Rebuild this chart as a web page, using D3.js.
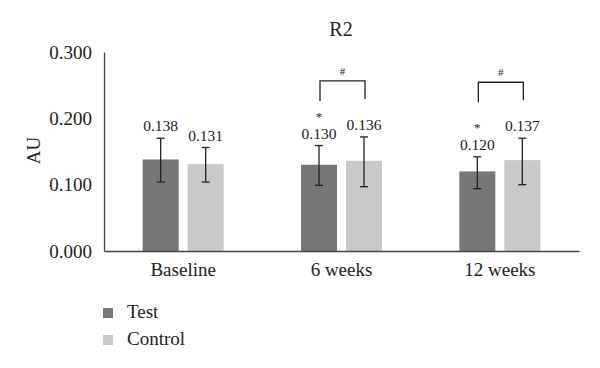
<!DOCTYPE html>
<html>
<head>
<meta charset="utf-8">
<script src="https://cdn.jsdelivr.net/npm/d3@7"></script>
<style>
  body { margin: 0; background: #fff; }
</style>
</head>
<body>
<div id="chart"></div>
<script>
// chart data
var categories = ["Baseline", "6 weeks", "12 weeks"];
var seriesNames = ["Test", "Control"];
var testValues = [0.138, 0.130, 0.120];
var controlValues = [0.131, 0.136, 0.137];
var testErrLow = [0.104, 0.099, 0.094];
var testErrHigh = [0.170, 0.159, 0.142];
var controlErrLow = [0.104, 0.097, 0.100];
var controlErrHigh = [0.156, 0.172, 0.170];
var testStar = [false, true, true];
var hashMark = [false, true, true];
var yTicks = [0, 0.1, 0.2, 0.3];

var colors = {Test: "#777777", Control: "#c9c9c9"};
var serif = "'Liberation Serif', 'DejaVu Serif', serif";

// canvas
var svg = d3.select("#chart").append("svg")
    .attr("width", 600).attr("height", 368)
    .style("font-family", serif);

var margin = {top: 52, left: 104, right: 21, bottom: 117};
var width = 600 - margin.left - margin.right,
    height = 368 - margin.top - margin.bottom;

var g = svg.append("g")
    .attr("transform", "translate(" + margin.left + "," + margin.top + ")");

// scales
var x0 = d3.scaleBand().domain(categories).range([0, width]);
var x1 = d3.scaleBand().domain(seriesNames).range([0, 81]).paddingInner(0.2);
var y = d3.scaleLinear().domain([0, 0.3]).range([height, 0]);

// build rows
var rows = [];
categories.forEach(function(c, i) {
    rows.push({cat: c, s: "Test", v: testValues[i], lo: testErrLow[i], hi: testErrHigh[i], star: testStar[i]});
    rows.push({cat: c, s: "Control", v: controlValues[i], lo: controlErrLow[i], hi: controlErrHigh[i], star: false});
});
function barX(d) { return x0(d.cat) + (x0.bandwidth() - 81) / 2 + x1(d.s); }

// bars
g.selectAll(".bar").data(rows).enter().append("rect")
    .attr("class", "bar")
    .attr("x", barX)
    .attr("width", x1.bandwidth())
    .attr("y", function(d) { return y(d.v); })
    .attr("height", function(d) { return height - y(d.v); })
    .attr("fill", function(d) { return colors[d.s]; });

// error bars
var err = g.selectAll(".err").data(rows).enter().append("g")
    .attr("class", "err")
    .attr("stroke", "#222").attr("stroke-width", 1.3);
err.append("line")
    .attr("x1", function(d) { return barX(d) + x1.bandwidth() / 2; })
    .attr("x2", function(d) { return barX(d) + x1.bandwidth() / 2; })
    .attr("y1", function(d) { return y(d.lo); })
    .attr("y2", function(d) { return y(d.hi); });
["lo", "hi"].forEach(function(k) {
    err.append("line")
        .attr("x1", function(d) { return barX(d) + x1.bandwidth() / 2 - 4; })
        .attr("x2", function(d) { return barX(d) + x1.bandwidth() / 2 + 4; })
        .attr("y1", function(d) { return y(d[k]); })
        .attr("y2", function(d) { return y(d[k]); });
});

// value labels
g.selectAll(".val").data(rows).enter().append("text")
    .attr("class", "val")
    .attr("x", function(d) { return barX(d) + x1.bandwidth() / 2; })
    .attr("y", function(d) { return y(d.hi) - 7; })
    .attr("text-anchor", "middle")
    .attr("fill", "#222")
    .style("font-size", "15.5px")
    .text(function(d) { return d.v.toFixed(3); });

// stars
g.selectAll(".star").data(rows.filter(function(d) { return d.star; })).enter().append("text")
    .attr("x", function(d) { return barX(d) + x1.bandwidth() / 2; })
    .attr("y", function(d) { return y(d.hi) - 25; })
    .attr("text-anchor", "middle")
    .attr("fill", "#222")
    .style("font-size", "13px")
    .text("*");

// brackets with #
categories.forEach(function(c, i) {
    if (!hashMark[i]) return;
    var xl = x0(c) + (x0.bandwidth() - 81) / 2 + x1("Test") + x1.bandwidth() / 2 + 1,
        xr = x0(c) + (x0.bandwidth() - 81) / 2 + x1("Control") + x1.bandwidth() / 2 + 1,
        top = y(Math.max(testErrHigh[i], controlErrHigh[i])) - 56;
    g.append("path")
        .attr("d", "M" + xl + "," + (top + 20) + "V" + top + "H" + xr + "V" + (top + 18))
        .attr("fill", "none").attr("stroke", "#222").attr("stroke-width", 1.3);
    g.append("text")
        .attr("x", (xl + xr) / 2).attr("y", top - 6)
        .attr("text-anchor", "middle")
        .attr("fill", "#222")
        .style("font-size", "11px")
        .text("#");
});

// axes
var yAxis = g.append("g")
    .call(d3.axisLeft(y).tickValues(yTicks).tickFormat(d3.format(".3f")).tickSize(0).tickPadding(12));
yAxis.attr("font-family", null);
yAxis.select(".domain").attr("stroke", "#444").attr("stroke-width", 1.3);
yAxis.selectAll("text").style("font-size", "19px").style("font-family", serif).attr("fill", "#222");

var xAxis = g.append("g")
    .attr("transform", "translate(0," + height + ")")
    .call(d3.axisBottom(x0).tickSize(0).tickPadding(12));
xAxis.attr("font-family", null);
xAxis.select(".domain").attr("stroke", "#444").attr("stroke-width", 1.3);
xAxis.selectAll("text").style("font-size", "19px").style("font-family", serif).attr("fill", "#222");

// axis title
svg.append("text")
    .attr("transform", "translate(40," + (margin.top + height / 2 - 1) + ") rotate(-90)")
    .attr("text-anchor", "middle")
    .attr("fill", "#222")
    .style("font-size", "19px")
    .text("AU");

// title
svg.append("text")
    .attr("x", 341).attr("y", 36)
    .attr("text-anchor", "middle")
    .attr("fill", "#222")
    .style("font-size", "20px")
    .text("R2");

// legend
var legend = svg.selectAll(".legend").data(seriesNames).enter().append("g")
    .attr("transform", function(d, i) { return "translate(103," + (308 + i * 27) + ")"; });
legend.append("rect").attr("width", 10).attr("height", 10)
    .attr("fill", function(d) { return colors[d]; });
legend.append("text").attr("x", 24).attr("y", 10)
    .attr("fill", "#222")
    .style("font-size", "19px")
    .style("font-family", serif)
    .text(function(d) { return d; });
</script>
</body>
</html>
